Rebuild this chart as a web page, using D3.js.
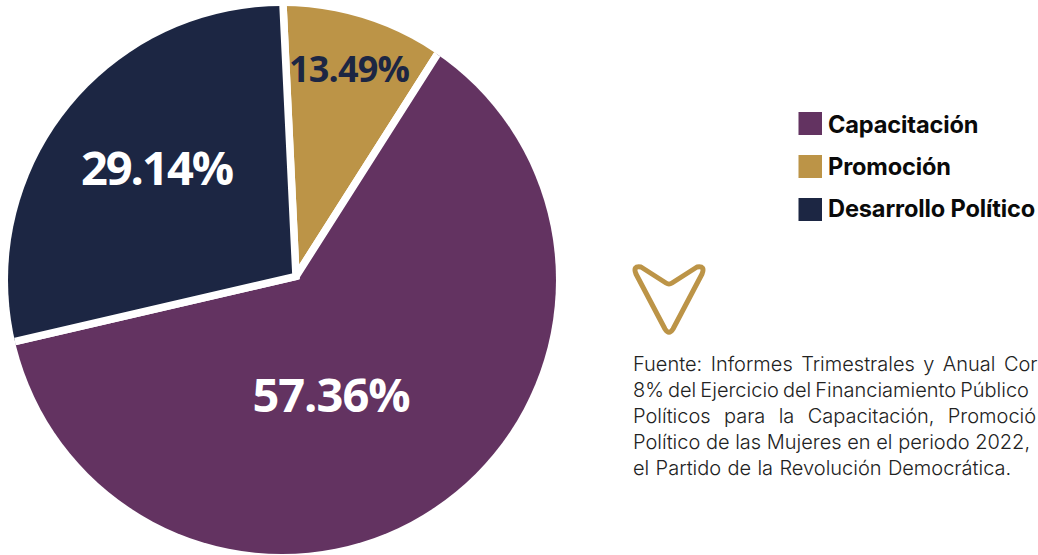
<!DOCTYPE html>
<html><head><meta charset="utf-8">
<script src="https://cdnjs.cloudflare.com/ajax/libs/d3/7.8.5/d3.min.js"></script>
<style>html,body{margin:0;padding:0;background:#fff;overflow:hidden}svg{display:block}</style>
</head><body><svg id="c" width="1038" height="555"></svg>
<script>
const categories = ["Promoción", "Capacitación", "Desarrollo Político"];
// Printed percentages from the reference.
const printedLabels = ["13.49%", "57.36%", "29.14%"];
const drawnShares = [9.78, 62.36, 27.86];
const sliceColors = ["#BC9447", "#633361", "#1C2643"];
const labelColors = ["#1C2643", "#FFFFFF", "#FFFFFF"];
const legendOrder = ["Capacitación", "Promoción", "Desarrollo Político"];
// Only what the reference shows: its lines run off the right edge.
const sourceLines = [
  "Fuente: Informes Trimestrales y Anual Cor",
  "8% del Ejercicio del Financiamiento Público",
  "Políticos para la Capacitación, Promoció",
  "Político de las Mujeres en el periodo 2022,",
  "el Partido de la Revolución Democrática."
];
const sourceWordSpacing = [2.8, -1.6, 7.7, 0, 0.7];

const svg = d3.select("#c");
const apex = [296, 276.4];
const circle = {x: 282, y: 280, r: 274};

svg.append("defs").append("clipPath").attr("id", "disc")
  .append("circle").attr("cx", circle.x).attr("cy", circle.y).attr("r", circle.r);

const startA = -2.74 * Math.PI / 180;
const pie = d3.pie().sort(null).startAngle(startA).endAngle(startA + 2 * Math.PI);
const arcs = pie(drawnShares);
const arc = d3.arc().innerRadius(0).outerRadius(700);

svg.append("g").attr("clip-path", "url(#disc)")
  .append("g").attr("transform", `translate(${apex})`)
  .selectAll("path").data(arcs).join("path")
  .attr("d", arc)
  .attr("fill", (d, i) => sliceColors[i])
  .attr("stroke", "#fff").attr("stroke-width", 7.5);

const labelPos = [
  {x: 349, y: 82, size: 36, ls: -0.8},
  {x: 331, y: 412, size: 47, ls: -1},
  {x: 156.5, y: 185, size: 47, ls: -2}
];
svg.append("g").selectAll("text").data(printedLabels).join("text")
  .attr("x", (d, i) => labelPos[i].x).attr("y", (d, i) => labelPos[i].y)
  .attr("text-anchor", "middle")
  .attr("font-family", "'Open Sans'").attr("font-weight", 700)
  .attr("font-size", (d, i) => labelPos[i].size)
  .attr("letter-spacing", (d, i) => labelPos[i].ls)
  .attr("fill", (d, i) => labelColors[i])
  .text(d => d);

const legendY = d3.scalePoint().domain(legendOrder).range([112, 198]);
const legendTextY = d3.scalePoint().domain(legendOrder).range([132.5, 216.5]);
const leg = svg.append("g").selectAll("g").data(legendOrder).join("g");
leg.append("rect")
  .attr("x", 798.5).attr("y", d => legendY(d)).attr("width", 23.5).attr("height", 23)
  .attr("fill", d => sliceColors[categories.indexOf(d)]);
leg.append("text")
  .attr("x", 828).attr("y", d => legendTextY(d))
  .attr("font-family", "Inter").attr("font-weight", 700).attr("font-size", 23.6)
  .attr("letter-spacing", -0.15).attr("fill", "#0a0a0a")
  .text(d => d);

// Logo mark
svg.append("path")
  .attr("d", "M636 274 Q632.5 265.5 641 267 L666 283 Q669 285 672 283 L697 267 Q705.5 265.5 702 274 L673 329 Q669 335.5 665 329 Z")
  .attr("fill", "none").attr("stroke", "#BC9447").attr("stroke-width", 5).attr("stroke-linejoin", "round");

svg.append("g").selectAll("text").data(sourceLines).join("text")
  .attr("x", 633).attr("y", (d, i) => 371 + i * 26)
  .attr("font-family", "Inter").attr("font-weight", 300).attr("font-size", 20)
  .attr("word-spacing", (d, i) => sourceWordSpacing[i])
  .attr("fill", "#222")
  .text(d => d);
</script></body></html>
